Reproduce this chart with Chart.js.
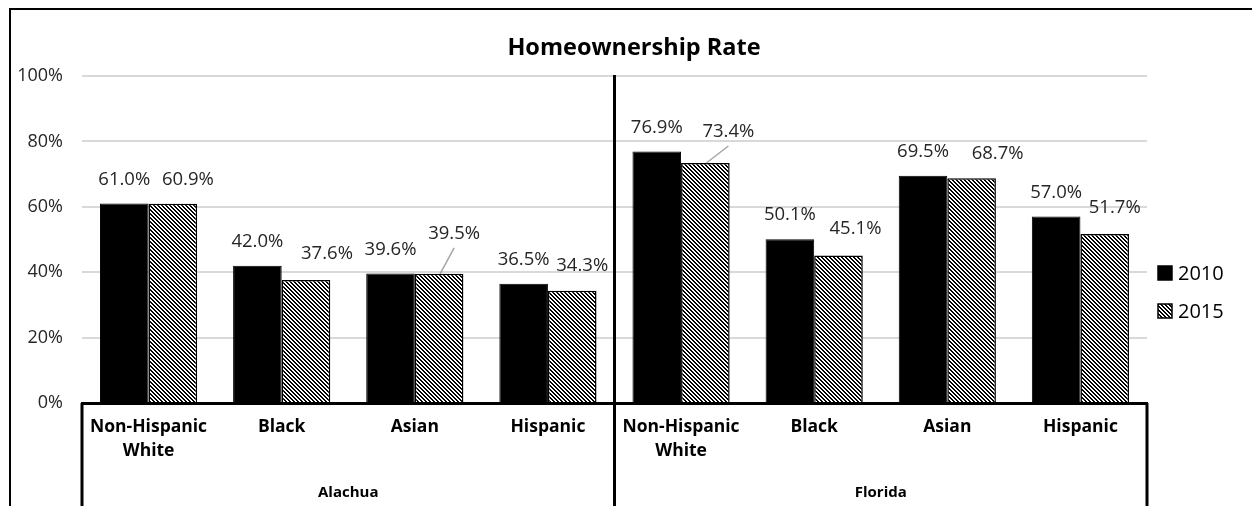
<!DOCTYPE html>
<html>
<head>
<meta charset="utf-8">
<script src="https://cdn.jsdelivr.net/npm/chart.js@4/dist/chart.umd.min.js"></script>
<style>
  html, body { margin: 0; padding: 0; background: #ffffff; }
  #wrap { width: 1252px; height: 506px; }
</style>
</head>
<body>
<div id="wrap"><canvas id="c" width="1252" height="506"></canvas></div>
<script>
// ---- data ----
const categories = [['Non-Hispanic', 'White'], 'Black', 'Asian', 'Hispanic',
                    ['Non-Hispanic', 'White'], 'Black', 'Asian', 'Hispanic'];
const groups = ['Alachua', 'Florida'];
const seriesNames = ['2010', '2015'];
const values2010 = [61.0, 42.0, 39.6, 36.5, 76.9, 50.1, 69.5, 57.0];
const values2015 = [60.9, 37.6, 39.5, 34.3, 73.4, 45.1, 68.7, 51.7];
const yTickValues = [0, 20, 40, 60, 80, 100];
const chartTitle = 'Homeownership Rate';

const FONT = '"Open Sans", Lato, sans-serif';

// hatch pattern (diagonal lines top-left to bottom-right)
function makeHatch() {
  const p = document.createElement('canvas');
  p.width = 4; p.height = 4;
  const g = p.getContext('2d');
  g.fillStyle = '#ffffff';
  g.fillRect(0, 0, 4, 4);
  g.fillStyle = '#000000';
  for (let y = 0; y < 4; y++) {
    for (let x = 0; x < 4; x++) {
      const d = ((x - y) % 4 + 4) % 4;
      if (d === 0 || d === 1) g.fillRect(x, y, 1, 1);
    }
  }
  return document.getElementById('c').getContext('2d').createPattern(p, 'repeat');
}
const hatch = makeHatch();

// label nudges (layout only) for the 2015 series labels
const labelNudge2015 = [[15, 0], [21, 2], [15, 16], [10, 1], [23, 7], [17, 3], [26, 1], [10, 2]];
const leaderIdx2015 = [2, 4];

const deco = {
  id: 'deco',
  beforeDraw(chart) {
    const ctx = chart.ctx;
    ctx.save();
    ctx.fillStyle = '#ffffff';
    ctx.fillRect(0, 0, chart.width, chart.height);
    ctx.strokeStyle = '#000000';
    ctx.lineWidth = 2;
    ctx.beginPath();
    ctx.moveTo(10, chart.height);
    ctx.lineTo(10, 9);
    ctx.lineTo(chart.width, 9);
    ctx.stroke();
    ctx.restore();
  },
  afterDraw(chart) {
    const ctx = chart.ctx;
    const area = chart.chartArea;
    const xs = chart.scales.x;
    ctx.save();
    // title
    ctx.fillStyle = '#000000';
    ctx.font = 'bold 23.5px ' + FONT;
    ctx.textAlign = 'center';
    ctx.textBaseline = 'middle';
    ctx.fillText(chartTitle, 634, 48);

    // axis separators
    ctx.strokeStyle = '#000000';
    ctx.lineWidth = 3;
    const x0 = xs.getPixelForValue(0) - (xs.getPixelForValue(1) - xs.getPixelForValue(0)) / 2;
    const xMid = (xs.getPixelForValue(3) + xs.getPixelForValue(4)) / 2;
    const x1 = xs.getPixelForValue(7) + (xs.getPixelForValue(7) - xs.getPixelForValue(6)) / 2;
    ctx.beginPath();
    ctx.moveTo(x0, area.bottom); ctx.lineTo(x0, chart.height);
    ctx.moveTo(x1, area.bottom); ctx.lineTo(x1, chart.height);
    ctx.moveTo(xMid, area.top - 1); ctx.lineTo(xMid, chart.height);
    ctx.stroke();

    // group labels
    ctx.font = 'bold 15px ' + FONT;
    ctx.fillStyle = '#000000';
    ctx.fillText(groups[0], (x0 + xMid) / 2, 493);
    ctx.fillText(groups[1], (xMid + x1) / 2, 493);

    // data labels
    ctx.font = '18.5px ' + FONT;
    ctx.fillStyle = '#262626';
    const m0 = chart.getDatasetMeta(0);
    const m1 = chart.getDatasetMeta(1);
    m0.data.forEach((el, i) => {
      ctx.fillText(values2010[i].toFixed(1) + '%', el.x, el.y - 24);
    });
    m1.data.forEach((el, i) => {
      const n = labelNudge2015[i];
      const lx = el.x + n[0], ly = el.y - 24 - n[1];
      ctx.fillText(values2015[i].toFixed(1) + '%', lx, ly);
      if (leaderIdx2015.includes(i)) {
        ctx.strokeStyle = '#a6a6a6';
        ctx.lineWidth = 1.5;
        ctx.beginPath();
        ctx.moveTo(el.x + 1, el.y);
        ctx.lineTo(lx + 0, ly + 14);
        ctx.stroke();
      }
    });

    // legend
    const lgX = 1158;
    const lgY = [273, 311];
    ctx.font = '20px ' + FONT;
    ctx.textAlign = 'left';
    [0, 1].forEach(k => {
      ctx.fillStyle = k === 0 ? '#000000' : hatch;
      ctx.fillRect(lgX, lgY[k] - 7, 14, 14);
      ctx.strokeStyle = '#000000';
      ctx.lineWidth = 1.5;
      ctx.strokeRect(lgX, lgY[k] - 7, 14, 14);
      ctx.fillStyle = '#000000';
      ctx.fillText(seriesNames[k], lgX + 20, lgY[k] + 1);
    });
    ctx.restore();
  }
};

new Chart(document.getElementById('c'), {
  type: 'bar',
  data: {
    labels: categories,
    datasets: [
      { label: seriesNames[0], data: values2010, backgroundColor: '#000000', borderColor: '#000000', borderWidth: 1 },
      { label: seriesNames[1], data: values2015, backgroundColor: hatch, borderColor: '#000000', borderWidth: 1.5 }
    ]
  },
  options: {
    responsive: false,
    animation: false,
    devicePixelRatio: 1,
    categoryPercentage: 0.73,
    barPercentage: 1.0,
    layout: { padding: { left: 0, right: 105, top: 76, bottom: 0 } },
    plugins: { legend: { display: false }, title: { display: false }, tooltip: { enabled: false } },
    scales: {
      x: {
        grid: { display: false, drawTicks: false },
        border: { display: true, color: '#000000', width: 3 },
        ticks: {
          color: '#000000', font: { family: FONT, size: 17.5, weight: 'bold', lineHeight: 1.36 },
          padding: 12, maxRotation: 0, autoSkip: false
        },
        afterFit(s) { s.height = 103; }
      },
      y: {
        min: 0, max: 100,
        afterBuildTicks(s) { s.ticks = yTickValues.map(v => ({ value: v })); },
        grid: { color: '#d9d9d9', lineWidth: 2, drawTicks: false },
        border: { display: false },
        ticks: {
          color: '#262626', font: { family: FONT, size: 18 }, padding: 19,
          callback: v => v + '%'
        },
        afterFit(s) { s.width = 82; }
      }
    }
  },
  plugins: [deco]
});
</script>
</body>
</html>
